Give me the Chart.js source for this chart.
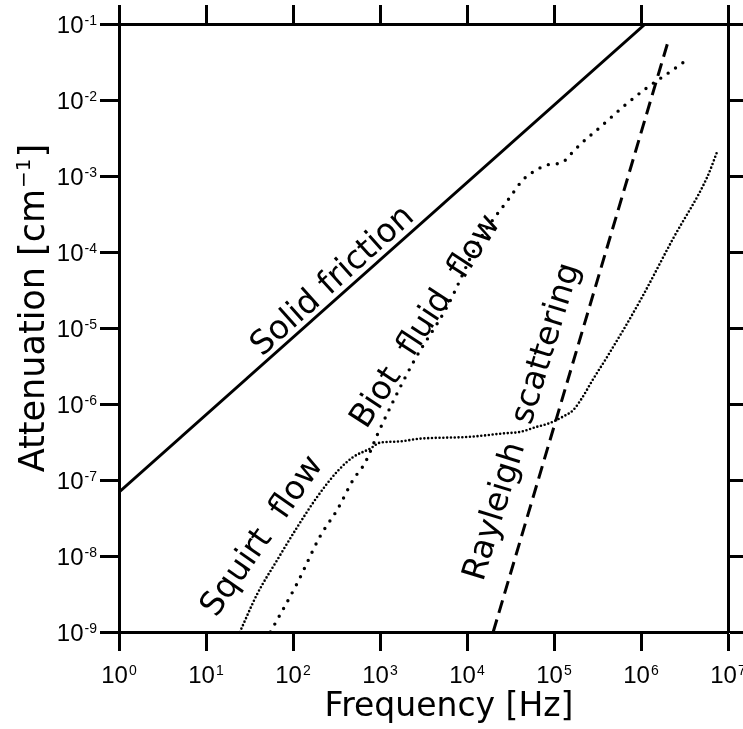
<!DOCTYPE html>
<html>
<head>
<meta charset="utf-8">
<script src="https://cdn.jsdelivr.net/npm/chart.js@4.4.1/dist/chart.umd.min.js"></script>
<style>
    html, body { margin: 0; padding: 0; background: #fff; }
    #wrapper { width: 743px; height: 729px; }
</style>
</head>
<body>
<div id="wrapper"><canvas id="atten_chart" width="743" height="729"></canvas></div>
<script>
// Decade ticks on both axes
var freq_ticks = [1e0, 1e1, 1e2, 1e3, 1e4, 1e5, 1e6, 1e7];
var atten_ticks = [1e-9, 1e-8, 1e-7, 1e-6, 1e-5, 1e-4, 1e-3, 1e-2, 1e-1];

// Frequency [Hz] / attenuation [cm^-1] for each mechanism
var friction_freq = [1, 1.12e6];
var friction_atten = [6.9e-8, 1e-1];

var rayleigh_freq = [2.0e4, 2.04e6];
var rayleigh_atten = [1e-9, 5.8e-2];

var biot_freq = [55, 112, 204, 324, 490, 676, 955, 2400, 5900, 1.4e4, 3.1e4, 4.4e4, 6.3e4, 8.3e4,
    1.23e5, 1.6e5, 2.0e5, 3.4e5, 6.2e5, 1.17e6, 2.1e6, 3.4e6];
var biot_atten = [1e-9, 4.4e-9, 1.8e-8, 4.1e-8, 1.0e-7, 1.7e-7, 4.2e-7, 3.5e-6, 1.9e-5, 1.45e-4, 5.2e-4, 8.9e-4, 1.2e-3, 1.4e-3,
    1.5e-3, 2.0e-3, 2.6e-3, 4.4e-3, 8.1e-3, 1.45e-2, 2.3e-2, 3.4e-2];

var squirt_freq = [24.5, 39, 66, 112, 190, 324, 490, 776, 1000, 1580, 2900, 1.07e4, 2.6e4, 4.1e4, 6.3e4,
    8.9e4, 1.26e5, 1.66e5, 2.1e5, 2.8e5, 4.1e5, 9.8e5, 2.3e6, 5.8e6, 7.4e6];
var squirt_atten = [1e-9, 3.2e-9, 8.9e-9, 2.4e-8, 6.0e-8, 1.3e-7, 2.0e-7, 2.6e-7, 3.1e-7, 3.2e-7, 3.5e-7, 3.7e-7, 4.1e-7, 4.3e-7, 5.0e-7,
    5.6e-7, 6.8e-7, 8.3e-7, 1.2e-6, 2.1e-6, 4.2e-6, 2.3e-5, 1.45e-4, 9.8e-4, 2.0e-3];

// Curve names written along the curves (centre frequency, centre attenuation, angle)
var label_text = ['Solid friction', 'Biot  fluid  flow', 'Squirt  flow', 'Rayleigh  scattering'];
var label_freq = [288, 3400, 45, 4.4e4];
var label_atten = [4.1e-5, 1.2e-5, 1.8e-8, 5.8e-7];
var label_angle = [-42, -57, -55, -73];

function toPoints(xs, ys){
    return xs.map(function(x, i){ return {x: x, y: ys[i]}; });
}

function decadeTicks(values){
    return function(scale){
        scale.ticks = values.map(function(v){ return {value: v}; });
    };
}

function logAxis(pos, min, max, values, tick_len){
    return {
        type: 'logarithmic',
        position: pos,
        min: min,
        max: max,
        afterBuildTicks: decadeTicks(values),
        ticks: { display: false },
        grid: {
            drawOnChartArea: false,
            drawTicks: true,
            tickLength: tick_len,
            tickWidth: 3,
            tickColor: '#000'
        },
        border: { display: true, color: '#000', width: 3 }
    };
}

// "10" followed by a raised exponent
function drawPower(ctx, exp, x, y, align){
    ctx.font = '24px "Liberation Sans"';
    let base_w = ctx.measureText('10').width;
    ctx.font = '14px "Liberation Sans"';
    let exp_w = ctx.measureText(exp).width;
    let total = base_w + exp_w + 1;
    let left = align == 'center' ? x - total / 2 : x - total;
    ctx.textAlign = 'left';
    ctx.textBaseline = 'alphabetic';
    ctx.font = '24px "Liberation Sans"';
    ctx.fillText('10', left, y);
    ctx.font = '14px "Liberation Sans"';
    ctx.fillText(exp, left + base_w + 1, y - 8);
}

var textPlugin = {
    id: 'axis_text',
    afterDraw: function(chart){
        let ctx = chart.ctx;
        let xs = chart.scales.x;
        let ys = chart.scales.y;
        let area = chart.chartArea;
        ctx.save();
        ctx.fillStyle = '#000';

        freq_ticks.forEach(function(v){
            drawPower(ctx, String(Math.round(Math.log10(v))), xs.getPixelForValue(v), area.bottom + 51, 'center');
        });
        atten_ticks.forEach(function(v){
            drawPower(ctx, String(Math.round(Math.log10(v))), area.left - 22, ys.getPixelForValue(v) + 9, 'right');
        });

        // axis titles
        ctx.font = '33px "DejaVu Sans"';
        ctx.textAlign = 'center';
        ctx.textBaseline = 'alphabetic';
        ctx.fillText('Frequency [Hz]', 449, 716);

        ctx.save();
        ctx.translate(44, 308);
        ctx.rotate(-Math.PI / 2);
        ctx.font = '35px "DejaVu Sans"';
        let t1 = 'Attenuation [cm';
        let t2 = ']';
        let w1 = ctx.measureText(t1).width;
        let w2 = ctx.measureText(t2).width;
        ctx.font = '20px "DejaVu Sans"';
        let we = ctx.measureText('\u22121').width;
        let start = -(w1 + we + w2 + 2) / 2;
        ctx.textAlign = 'left';
        ctx.font = '35px "DejaVu Sans"';
        ctx.fillText(t1, start, 0);
        ctx.font = '20px "DejaVu Sans"';
        ctx.fillText('\u22121', start + w1 + 1, -14);
        ctx.font = '35px "DejaVu Sans"';
        ctx.fillText(t2, start + w1 + we + 2, 0);
        ctx.restore();

        // curve names
        label_text.forEach(function(txt, i){
            ctx.save();
            ctx.translate(xs.getPixelForValue(label_freq[i]), ys.getPixelForValue(label_atten[i]));
            ctx.rotate(label_angle[i] * Math.PI / 180);
            ctx.font = '33px "DejaVu Sans"';
            ctx.textAlign = 'center';
            ctx.textBaseline = 'middle';
            ctx.fillText(txt, 0, 0);
            ctx.restore();
        });
        ctx.restore();
    }
};

var ctx = document.getElementById('atten_chart').getContext('2d');

var atten_chart = new Chart(ctx, {
    type: 'line',
    data: {
        datasets: [{
            label: 'Solid friction',
            data: toPoints(friction_freq, friction_atten),
            borderColor: '#000',
            borderWidth: 3,
            pointRadius: 0
        }, {
            label: 'Rayleigh scattering',
            data: toPoints(rayleigh_freq, rayleigh_atten),
            borderColor: '#000',
            borderWidth: 3,
            borderDash: [13, 7],
            pointRadius: 0
        }, {
            label: 'Biot fluid flow',
            data: toPoints(biot_freq, biot_atten),
            borderColor: '#000',
            borderWidth: 3.4,
            borderDash: [0, 9],
            borderCapStyle: 'round',
            cubicInterpolationMode: 'monotone',
            pointRadius: 0
        }, {
            label: 'Squirt flow',
            data: toPoints(squirt_freq, squirt_atten),
            borderColor: '#000',
            borderWidth: 2.6,
            borderDash: [0, 3.8],
            borderCapStyle: 'round',
            cubicInterpolationMode: 'monotone',
            pointRadius: 0
        }]
    },
    options: {
        responsive: false,
        animation: false,
        devicePixelRatio: 1,
        layout: { padding: { left: 100, right: 0, top: 5, bottom: 78 } },
        plugins: {
            legend: { display: false },
            tooltip: { enabled: false }
        },
        scales: {
            x: logAxis('bottom', 1, 1e7, freq_ticks, 19),
            x2: logAxis('top', 1, 1e7, freq_ticks, 19),
            y: logAxis('left', 1e-9, 1e-1, atten_ticks, 19),
            y2: logAxis('right', 1e-9, 1e-1, atten_ticks, 15)
        }
    },
    plugins: [textPlugin]
});
</script>
</body>
</html>
